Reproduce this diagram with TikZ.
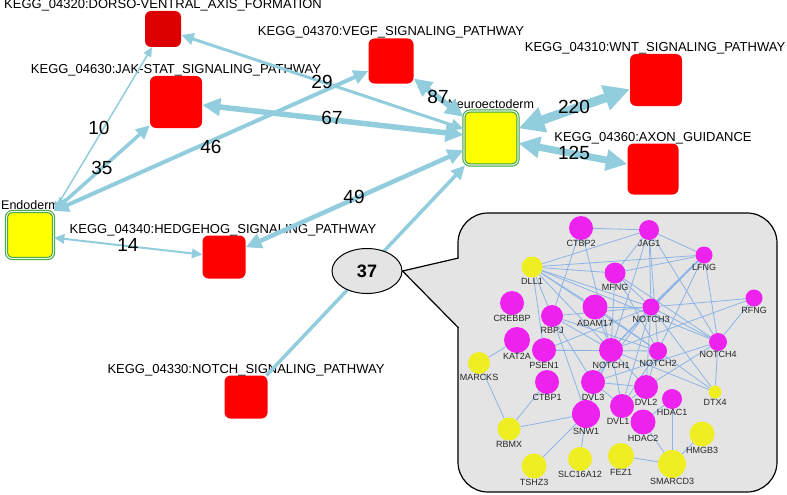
\documentclass[tikz,border=0pt]{standalone}
\usepackage{fontspec}
\setmainfont{Liberation Sans}
\usetikzlibrary{arrows.meta,shapes.geometric}
\definecolor{eblue}{RGB}{146,205,221}
\definecolor{kred}{RGB}{255,0,0}
\definecolor{kdred}{RGB}{221,0,0}
\definecolor{kyel}{RGB}{255,255,0}
\definecolor{kgreen}{RGB}{60,160,60}
\definecolor{kpale}{RGB}{225,245,225}
\definecolor{cgray}{RGB}{228,228,228}
\definecolor{gmag}{RGB}{238,34,238}
\definecolor{gyel}{RGB}{238,238,34}
\definecolor{gedgec}{RGB}{140,180,230}
\pgfdeclarelayer{bg}
\pgfdeclarelayer{mid}
\pgfsetlayers{bg,mid,main}
\begin{document}
\begin{tikzpicture}[x=1pt,y=-1pt,
  >={Triangle[length=6pt 2.2,width=5pt 2.2]},
  pw/.style={rectangle, rounded corners=6pt, fill=kred, inner sep=0, minimum size=#1},
  germ/.style={rectangle, rounded corners=6pt, fill=kyel, draw=kgreen, double=kpale, double distance=1.2pt, line width=1pt, inner sep=0, minimum size=#1},
  klab/.style={font=\fontsize{13}{15}\selectfont, anchor=base, inner sep=0},
  num/.style={font=\fontsize{19}{21}\selectfont, inner sep=0},
  link/.style={draw=eblue, line width=#1},
  gn/.style={circle, fill=gmag, inner sep=0, minimum size=#1, label distance=1.5pt},
  gy/.style={circle, fill=gyel, inner sep=0, minimum size=#1, label distance=1.5pt},
  every label/.style={font=\fontsize{9}{10}\selectfont, inner sep=0, text=black!85},
  gedge/.style={draw=gedgec, line width=0.8pt}
]
\useasboundingbox (0,0) rectangle (787,495);
\begin{pgfonlayer}{bg}
\fill[white] (0,0) rectangle (787,495);
\draw[fill=cgray, line width=1.2pt, rounded corners=30pt] (458,213) rectangle (777,492);
\end{pgfonlayer}

% pathway and germ-layer nodes
\node[pw=36pt, fill=kdred] (dv) at (163,29) {};
\node[pw=52pt] (jak) at (176,102) {};
\node[pw=45pt] (vegf) at (391,61) {};
\node[pw=52pt] (wnt) at (656,80) {};
\node[pw=51pt] (axon) at (653,169) {};
\node[pw=43pt] (hh) at (224,257) {};
\node[pw=43pt] (notch) at (246,397) {};
\node[germ=54pt] (neuro) at (491,138) {};
\node[germ=47pt] (endo) at (30,235) {};

% labels
\node[klab] (ldv) at (163,9) {KEGG\_04320:DORSO-VENTRAL\_AXIS\_FORMATION};
\node[klab] (ljak) at (176,74) {KEGG\_04630:JAK-STAT\_SIGNALING\_PATHWAY};
\node[klab] (lvegf) at (391,36) {KEGG\_04370:VEGF\_SIGNALING\_PATHWAY};
\node[klab] (lwnt) at (655,52) {KEGG\_04310:WNT\_SIGNALING\_PATHWAY};
\node[klab] (laxon) at (653,141) {KEGG\_04360:AXON\_GUIDANCE};
\node[klab] (lhh) at (223,233) {KEGG\_04340:HEDGEHOG\_SIGNALING\_PATHWAY};
\node[klab] (lnotch) at (246,373) {KEGG\_04330:NOTCH\_SIGNALING\_PATHWAY};
\node[klab, font=\fontsize{12.5}{14}\selectfont] (lneuro) at (491,108) {Neuroectoderm};
\node[klab, font=\fontsize{12.5}{14}\selectfont] (lendo) at (30,209) {Endoderm};

% connectors
\draw[link=1.5pt, <->] (endo.north east) -- (dv);
\draw[link=3.5pt, <->] (endo.north east) -- (jak);
\draw[link=4pt, <->] (endo.north east) -- (vegf);
\draw[link=2pt, <->] (endo) -- (hh);
\draw[link=3pt, <->] (neuro) -- (dv);
\draw[link=5.5pt, <->] (neuro) -- (jak);
\draw[link=5.5pt, <->] (neuro) -- (vegf);
\draw[link=9pt, <->] (neuro) -- (wnt);
\draw[link=7pt, <->] (neuro) -- (axon);
\draw[link=4.5pt, <->] (neuro) -- (hh);
\draw[link=3.5pt, <-] (neuro) -- (notch);

% counts
\node[num] (n10) at (99,128) {10};
\node[num] (n35) at (102,168) {35};
\node[num] (n46) at (211,147) {46};
\node[num] (n29) at (322,82) {29};
\node[num] (n67) at (332,118) {67};
\node[num] (n87) at (438,97) {87};
\node[num] (n220) at (574,107) {220};
\node[num] (n125) at (574,153) {125};
\node[num] (n49) at (354,197) {49};
\node[num] (n14) at (128,245) {14};

% callout bubble
\node[ellipse, draw, fill=cgray, line width=1pt, minimum width=70pt, minimum height=45pt, inner sep=0, font=\bfseries\fontsize{18}{20}\selectfont] (e37) at (367,271) {37};
\begin{pgfonlayer}{bg}
\fill[cgray] (e37.east) -- (459.5,258) -- (459.5,328) -- cycle;
\draw[line width=1.2pt] (458.6,258) -- (e37.east) -- (458.6,328);
\end{pgfonlayer}

% gene network
\node[gn=24pt, label=below:CTBP2] (ctbp2) at (581,228) {};
\node[gn=20pt, label=below:JAG1] (jag1) at (649,230) {};
\node[gn=17pt, label=below:LFNG] (lfng) at (704,255) {};
\node[gy=21pt, label=below:DLL1] (dll1) at (532,267) {};
\node[gn=21pt, label=below:MFNG] (mfng) at (615,273) {};
\node[gn=17pt, label=below:RFNG] (rfng) at (754,298) {};
\node[gn=24pt, label=below:CREBBP] (crebbp) at (512,303) {};
\node[gn=22pt, label=below:RBPJ] (rbpj) at (552,316) {};
\node[gn=25pt, label=below:ADAM17] (adam17) at (595,307) {};
\node[gn=17pt, label=below:NOTCH3] (notch3) at (651,307) {};
\node[gn=18pt, label=below:NOTCH4] (notch4) at (718,342) {};
\node[gn=26pt, label=below:KAT2A] (kat2a) at (517,340) {};
\node[gy=22pt, label=below:MARCKS] (marcks) at (479,363) {};
\node[gn=24pt, label=below:PSEN1] (psen1) at (544,350) {};
\node[gn=24pt, label=below:NOTCH1] (notch1) at (611,350) {};
\node[gn=18pt, label=below:NOTCH2] (notch2) at (658,351) {};
\node[gn=24pt, label=below:CTBP1] (ctbp1) at (547,382) {};
\node[gn=24pt, label=below:DVL3] (dvl3) at (593,382) {};
\node[gn=24pt, label=below:DVL2] (dvl2) at (646,387) {};
\node[gn=20pt, label=below:HDAC1] (hdac1) at (672,399) {};
\node[gy=13pt, label=below:DTX4] (dtx4) at (715,392) {};
\node[gn=24pt, label={[xshift=-4pt]below:DVL1}] (dvl1) at (622,406) {};
\node[gn=25pt, label=below:HDAC2] (hdac2) at (643,422) {};
\node[gn=28pt, label=below:SNW1] (snw1) at (586,414) {};
\node[gy=23pt, label=below:RBMX] (rbmx) at (509,429) {};
\node[gy=25pt, label=below:HMGB3] (hmgb3) at (702,434) {};
\node[gy=25pt, label=below:TSHZ3] (tshz3) at (534,466) {};
\node[gy=24pt, label=below:SLC16A12] (slc) at (580,459) {};
\node[gy=26pt, label=below:FEZ1] (fez1) at (621,456) {};
\node[gy=28pt, label=below:SMARCD3] (smarcd3) at (672,464) {};

\begin{pgfonlayer}{mid}
\foreach \a/\b in {ctbp2/jag1, ctbp2/rbpj, ctbp2/notch1,
  dll1/lfng, dll1/jag1, dll1/mfng, dll1/notch3, dll1/notch1, dll1/notch2, dll1/notch4, dll1/rbpj, dll1/psen1, dll1/adam17,
  jag1/lfng, jag1/mfng, jag1/notch3, jag1/notch1, jag1/notch2, jag1/notch4,
  lfng/notch1, lfng/notch2, lfng/notch4, lfng/mfng,
  mfng/notch3, mfng/notch1, mfng/notch2, mfng/notch4,
  rfng/notch3, rfng/notch4, rfng/notch1,
  adam17/notch1, adam17/notch3, adam17/notch2,
  rbpj/notch1, rbpj/notch3, rbpj/notch2, rbpj/snw1, rbpj/dvl3,
  psen1/notch1, psen1/notch3, psen1/notch2,
  notch1/notch3, notch1/dvl1, notch1/dvl2, notch1/dvl3, notch1/snw1, notch1/dtx4,
  notch2/dvl1, notch2/dvl2, notch2/dtx4,
  notch3/dvl1, notch3/dvl2, notch3/dvl3, notch3/dtx4, notch3/notch4,
  notch4/dtx4, notch4/dvl2, notch4/dvl3,
  dvl1/dvl2, dvl1/dvl3, dvl2/dvl3,
  hdac1/hdac2, hdac1/smarcd3, hdac2/smarcd3,
  kat2a/marcks, marcks/rbmx, ctbp1/rbmx, rbmx/snw1, snw1/tshz3, snw1/slc,
  fez1/smarcd3, hmgb3/smarcd3}
  \draw[gedge] (\a) -- (\b);
\draw[gedge, line width=1.8pt] (lfng) -- (notch3);
\end{pgfonlayer}
\end{tikzpicture}
\end{document}
